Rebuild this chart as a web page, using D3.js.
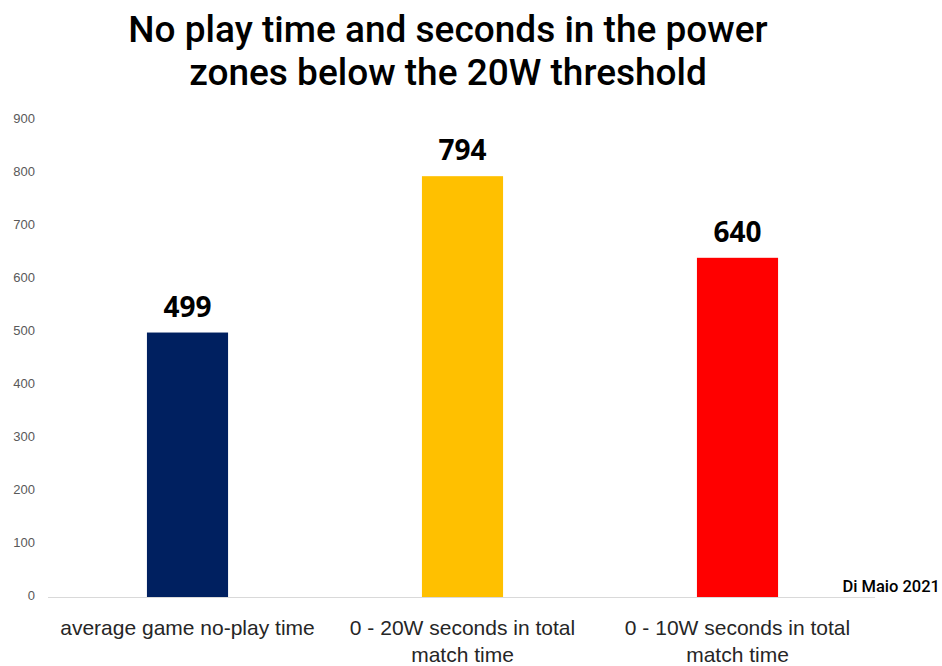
<!DOCTYPE html>
<html>
<head>
<meta charset="utf-8">
<script src="https://cdn.jsdelivr.net/npm/d3@7"></script>
<style>
  html, body { margin: 0; padding: 0; background: #ffffff; }
  svg { display: block; }
</style>
</head>
<body>
<svg id="chart" width="942" height="666"></svg>
<script>
// Seconds per category
const categories = [
  ["average game no-play time"],
  ["0 - 20W seconds in total", "match time"],
  ["0 - 10W seconds in total", "match time"]
];
const values = [499, 794, 640];
const barColors = ["#002060", "#FFC000", "#FF0000"];
const yTicks = [0, 100, 200, 300, 400, 500, 600, 700, 800, 900];
const titleLines = ["No play time and seconds in the power", "zones below the 20W threshold"];
const sourceNote = "Di Maio 2021";

const svg = d3.select("#chart");

const x = d3.scaleBand()
  .domain(d3.range(values.length))
  .range([50, 875])
  .paddingInner(0.705)
  .paddingOuter(0.3525);

const y = d3.scaleLinear()
  .domain([0, 900])
  .range([597, 120]);

// Title
svg.append("g")
  .selectAll("text")
  .data(titleLines)
  .join("text")
  .attr("x", 448)
  .attr("y", (d, i) => 42 + i * 43)
  .attr("text-anchor", "middle")
  .attr("font-family", "Roboto, 'DejaVu Sans Condensed', sans-serif")
  .attr("font-weight", 500)
  .attr("font-size", 37)
  .attr("fill", "#000")
  .text(d => d);

// Y axis labels, no line
const yAxis = d3.axisLeft(y).tickValues(yTicks).tickSize(0).tickPadding(0);
const yg = svg.append("g")
  .attr("transform", "translate(35,-2)")
  .call(yAxis);
yg.select(".domain").remove();
yg.selectAll("text")
  .attr("font-family", "'Liberation Sans', sans-serif")
  .attr("font-size", 13)
  .attr("fill", "#595959");

// Bars
svg.append("g")
  .selectAll("rect")
  .data(values)
  .join("rect")
  .attr("x", (d, i) => x(i))
  .attr("width", x.bandwidth())
  .attr("y", d => y(d))
  .attr("height", d => y(0) - y(d))
  .attr("fill", (d, i) => barColors[i]);

// Baseline
svg.append("line")
  .attr("x1", 48).attr("x2", 875)
  .attr("y1", y(0) + 0.5).attr("y2", y(0) + 0.5)
  .attr("stroke", "#d9d9d9")
  .attr("stroke-width", 1);

// Value labels
svg.append("g")
  .selectAll("text")
  .data(values)
  .join("text")
  .attr("x", (d, i) => x(i) + x.bandwidth() / 2)
  .attr("y", d => y(d) - 16)
  .attr("text-anchor", "middle")
  .attr("font-family", "'Open Sans', 'Liberation Sans', sans-serif")
  .attr("font-weight", 700)
  .attr("font-size", 28)
  .attr("fill", "#000")
  .text(d => d);

// Category labels
const cg = svg.append("g")
  .selectAll("text")
  .data(categories)
  .join("text")
  .attr("x", (d, i) => x(i) + x.bandwidth() / 2)
  .attr("y", 635)
  .attr("text-anchor", "middle")
  .attr("font-family", "'Liberation Sans Narrow', 'Liberation Sans', sans-serif")
  .attr("font-size", 21)
  .attr("fill", "#262626");
cg.selectAll("tspan")
  .data(d => d)
  .join("tspan")
  .attr("x", function () { return d3.select(this.parentNode).attr("x"); })
  .attr("dy", (d, i) => i === 0 ? 0 : 27)
  .text(d => d);

// Source note
svg.append("text")
  .attr("x", 940)
  .attr("y", 592)
  .attr("text-anchor", "end")
  .attr("font-family", "Roboto, sans-serif")
  .attr("font-weight", 500)
  .attr("font-size", 16.5)
  .attr("fill", "#000")
  .text(sourceNote);
</script>
</body>
</html>
